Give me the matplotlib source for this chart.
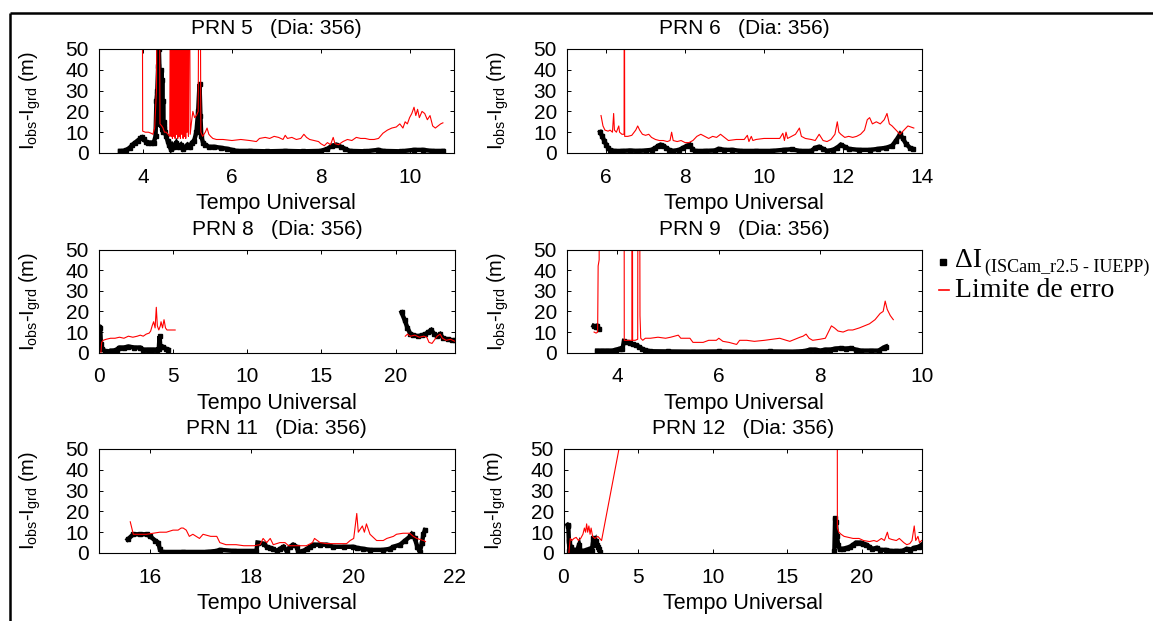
import numpy as np
import matplotlib
matplotlib.use("Agg")
import matplotlib.pyplot as plt
from matplotlib.lines import Line2D

plt.rcParams['font.family'] = ['Liberation Sans', 'DejaVu Sans']
plt.rcParams['mathtext.fontset'] = 'custom'
plt.rcParams['mathtext.rm'] = 'Liberation Sans'
plt.rcParams['mathtext.it'] = 'Liberation Sans:italic'
plt.rcParams['mathtext.bf'] = 'Liberation Sans:bold'

nan = np.nan

# ---------------- PRN 5 ----------------
prn5_t_diff = [3.48, 3.55, 3.62, 3.70, 3.76, 3.82, 3.88, 3.94, 3.98, 4.02, 4.06, 4.12, 4.18, 4.24,
               4.28, 4.30, 4.32, 4.34, 4.355, 4.37, 4.38, 4.39, 4.40, 4.41, 4.42, 4.43, 4.44, 4.45,
               4.46, 4.48, 4.50, 4.52, 4.55, 4.58, 4.62, 4.66, 4.70, 4.75, 4.80, 4.85, 4.90, 4.95,
               5.00, 5.05, 5.10, 5.15, 5.20, 5.24, 5.27, 5.29, 5.31, 5.35, 5.40, 5.48, 5.60, 5.75,
               5.90, 6.00, 6.10, 6.40, 6.80, 7.20, 7.60, 8.00, 8.15, 8.25, 8.35, 8.45, 8.55, 8.65,
               9.00, 9.30, 9.40, 9.80, 10.10, 10.30, 10.50, 10.75]
prn5_diff = [1.0, 1.0, 1.5, 2.5, 4.0, 5.0, 6.0, 7.0, 7.5, 6.5, 5.5, 5.0, 5.0, 5.0,
             8.0, 25.0, 30.0, 42.0, 50.0, 38.0, 14.0, 30.0, 18.0, 40.0, 12.0, 35.0, 10.0, 25.0,
             13.0, 15.0, 10.0, 8.0, 6.0, 4.0, 2.0, 4.0, 3.0, 5.0, 3.0, 4.0, 2.0, 3.0,
             4.0, 3.0, 5.0, 6.0, 10.0, 20.0, 33.0, 18.0, 8.0, 5.0, 4.0, 3.0, 3.0, 2.5,
             2.0, 1.5, 1.0, 1.0, 0.8, 1.0, 0.8, 1.0, 2.0, 3.5, 4.0, 3.0, 2.0, 1.0,
             0.8, 1.5, 1.0, 0.8, 1.5, 1.5, 1.0, 1.0]
prn5_t_lim = [3.98, 3.99, 4.05, 4.12, 4.18, 4.22, 4.26, 4.30, 4.33, 4.36, 4.38, 4.42, 4.45, 4.48,
              4.52, 4.56, 4.60, 4.62, 4.63, 4.65, 4.66, 4.68, 4.69, 4.71, 4.72, 4.74, 4.75, 4.77,
              4.78, 4.80, 4.81, 4.83, 4.84, 4.86, 4.87, 4.89, 4.90, 4.92, 4.93, 4.95, 4.96, 4.98,
              4.99, 5.01, 5.02, 5.04, 5.06, 5.09, 5.12, 5.16, 5.20, 5.24, 5.26, 5.28, 5.30, 5.34,
              5.40, 5.44, 5.48, 5.52, 5.57, 5.65, 5.80, 6.00, 6.20, 6.40, 6.55, 6.62, 6.75, 6.85,
              6.95, 7.05, 7.15, 7.20, 7.25, 7.35, 7.45, 7.55, 7.62, 7.68, 7.75, 7.85, 7.95, 8.00,
              8.08, 8.15, 8.22, 8.28, 8.32, 8.40, 8.50, 8.60, 8.70, 8.80, 8.90, 9.00, 9.10, 9.20,
              9.30, 9.40, 9.50, 9.60, 9.70, 9.78, 9.85, 9.90, 9.95, 10.00, 10.05, 10.10, 10.14,
              10.18, 10.22, 10.28, 10.34, 10.40, 10.46, 10.52, 10.58, 10.64, 10.70, 10.75]
prn5_lim = [120, 10.5, 10, 10, 9.5, 9, 12, 30, 120, 120, 14, 13, 12, 10,
            10, 9, 8, 120, 8, 120, 7, 120, 8, 120, 7, 120, 9, 120,
            7, 120, 8, 120, 7, 120, 9, 120, 7, 120, 8, 120, 7, 120,
            10, 120, 8, 120, 9, 15, 20, 17, 18, 20, 120, 120, 10, 8,
            10, 12, 9, 8, 7, 6.5, 6.5, 6.0, 6.5, 6.0, 5.5, 7.0, 7.5, 7.0,
            8.0, 7.5, 6.5, 8.5, 7.0, 7.5, 6.5, 7.0, 9.0, 7.5, 6.5, 6.0, 5.5, 4.5,
            3.5, 5.0, 4.0, 7.5, 4.5, 4.0, 5.5, 6.5, 6.0, 7.5, 7.0, 7.0, 6.5, 6.5,
            7.0, 9.5, 11.0, 12.0, 12.5, 14.0, 12.0, 15.0, 14.0, 17.0, 19.0, 22.0, 18.0,
            21.0, 17.0, 20.0, 19.0, 16.0, 18.0, 13.0, 12.0, 13.0, 14.0, 14.5]

# ---------------- PRN 6 ----------------
prn6_t_diff = [5.85, 5.90, 5.95, 6.00, 6.05, 6.10, 6.20, 6.40, 6.60, 6.80, 7.00, 7.15, 7.25, 7.32,
               7.38, 7.45, 7.52, 7.60, 7.70, 7.85, 7.95, 8.05, 8.12, 8.18, 8.25, 8.50, 8.75, 8.85,
               9.00, 9.20, 9.40, 9.80, 10.20, 10.50, 10.70, 10.90, 11.20, 11.30, 11.40, 11.50,
               11.60, 11.75, 11.85, 11.95, 12.05, 12.15, 12.40, 12.70, 12.90, 13.10, 13.25, 13.35,
               13.45, 13.52, 13.60, 13.70, 13.78]
prn6_diff = [10, 8, 6, 4, 2.5, 1.5, 1.0, 1.0, 1.2, 1.0, 1.2, 1.5, 2.5, 3.5,
             4.0, 3.5, 2.5, 1.5, 1.0, 1.5, 2.5, 3.5, 4.0, 2.0, 1.0, 1.0, 1.2, 2.0,
             1.5, 1.5, 1.0, 1.0, 1.0, 1.5, 1.8, 1.0, 1.0, 2.5, 3.0, 2.0,
             1.0, 1.5, 2.5, 4.0, 3.0, 2.0, 1.5, 1.5, 2.0, 2.5, 3.5, 6.0,
             9.0, 7.0, 4.5, 2.5, 2.0]
prn6_t_lim = [5.87, 5.92, 5.97, 6.05, 6.10, 6.16, 6.19, 6.21, 6.26, 6.32, 6.34, 6.40, 6.455, 6.46,
              6.47, 6.55, 6.65, 6.75, 6.80, 6.85, 6.92, 7.00, 7.08, 7.15, 7.25, 7.35, 7.45, 7.55,
              7.62, 7.66, 7.70, 7.80, 7.90, 8.00, 8.10, 8.20, 8.30, 8.40, 8.50, 8.60, 8.70, 8.80,
              8.90, 9.00, 9.10, 9.30, 9.50, 9.58, 9.62, 9.68, 9.72, 9.80, 10.00, 10.20, 10.40,
              10.48, 10.52, 10.56, 10.60, 10.70, 10.80, 10.90, 10.95, 11.05, 11.20, 11.30, 11.40,
              11.50, 11.60, 11.70, 11.80, 11.86, 11.90, 11.95, 12.05, 12.15, 12.25, 12.35, 12.45,
              12.55, 12.62, 12.68, 12.75, 12.85, 12.95, 13.05, 13.12, 13.18, 13.25, 13.35, 13.45,
              13.55, 13.65, 13.80]
prn6_lim = [18, 13, 11, 10.5, 11, 10, 19, 11, 10, 13, 10, 9, 9, 150,
            8, 8, 8.5, 11, 13, 11, 9, 8.5, 9, 7.5, 6.5, 6, 6, 5.5,
            6, 10, 6, 5.5, 6, 5, 5, 6, 8, 9, 8, 7, 8, 7.5,
            9, 7.5, 6, 6.5, 6.5, 8.5, 5.5, 8, 6, 6.5, 7, 7, 7,
            9.5, 6, 10, 7, 8, 9, 12, 8, 7, 6.5, 6, 9,
            6, 5.5, 6.5, 9, 15, 10, 9, 7.5, 8, 7.5, 8, 9,
            11, 16, 17, 14, 15, 14, 16, 19, 14, 13, 11, 9,
            11, 13, 12]

# ---------------- PRN 8 ----------------
prn8_t_diff = [0.05, 0.10, 0.15, 0.25, 0.40, 0.60, 0.80, 1.00, 1.20, 1.40, 1.70, 2.00, 2.40, 2.80,
               3.00, 3.30, 3.60, 3.90, 4.05, 4.10, 4.15, 4.30, 4.50, 4.70, nan,
               20.40, 20.60, 20.80, 21.00, 21.20, 21.50, 21.80, 22.00, 22.20, 22.40, 22.60, 22.80,
               23.00, 23.20, 23.50, 23.80, 24.00]
prn8_diff = [12.5, 12, 4, 2, 0.8, 0.5, 1, 1, 1.5, 2.5, 2.5, 3, 2.5, 2.5,
             1.5, 1.5, 1.5, 1.5, 2, 8, 3, 3, 2, 1.5, nan,
             19.5, 16, 12, 9, 8.5, 8, 8.5, 9, 10, 11, 9, 8,
             9, 7, 6.5, 6, 6]
prn8_t_lim = [0.15, 0.20, 0.30, 0.50, 0.80, 1.10, 1.40, 1.70, 2.00, 2.30, 2.60, 2.80, 3.00, 3.20,
              3.40, 3.50, 3.60, 3.70, 3.80, 3.88, 3.95, 4.05, 4.15, 4.20, 4.30, 4.40, 4.50, 4.60,
              5.15, nan,
              20.65, 20.80, 21.00, 21.30, 21.60, 21.90, 22.10, 22.25, 22.45, 22.60, 22.80, 23.00,
              23.15, 23.40, 23.70, 24.00]
prn8_lim = [0, 5, 6, 6.5, 7, 7, 7.5, 7, 8, 7.5, 8, 8.5, 8, 9,
            9.5, 10.5, 13, 15, 12, 22, 13, 11, 13, 15, 12, 16, 12, 11,
            11, nan,
            8, 9, 8, 8.5, 7.5, 8, 7.5, 5, 4.5, 6, 8, 9,
            7, 6, 6.5, 5.5]

# ---------------- PRN 9 ----------------
prn9_t_diff = [3.53, 3.57, 3.60, 3.64, nan,
               3.60, 3.70, 3.80, 3.90, 3.98, 4.05, 4.10, 4.13, 4.18, 4.24, 4.30, 4.36, 4.42, 4.48,
               4.55, 4.65, 5.00, 5.50, 6.00, 6.50, 7.00, 7.50, 7.70, 7.80, 7.90, 8.00, 8.10, 8.20,
               8.30, 8.40, 8.50, 8.60, 8.70, 8.80, 9.00, 9.15, 9.25, 9.30]
prn9_diff = [13, 12.5, 13, 11.5, nan,
             1, 1, 1, 1, 1.5, 2, 2, 5.5, 5, 4.5, 4, 3.5, 3, 2,
             1.2, 0.7, 0.6, 0.5, 0.6, 0.5, 0.6, 0.5, 0.8, 1.5, 1.5, 1, 1.5, 1.5,
             2, 2.2, 2, 2.2, 1.5, 1, 1, 1, 2.5, 3]
prn9_t_lim = [3.54, 3.58, 3.61, 3.62, 3.64, 3.65, 4.13, 4.135, 4.18, 4.24, 4.285, 4.29, 4.30, 4.35,
              4.40, 4.41, 4.43, 4.445, 4.46, 4.50, 4.55, 4.65, 4.80, 4.95, 5.05, 5.20, 5.25, 5.35,
              5.43, 5.49, 5.60, 5.69, 5.80, 5.95, 6.00, 6.08, 6.20, 6.35, 6.41, 6.55, 6.70, 6.90,
              7.05, 7.20, 7.33, 7.40, 7.50, 7.60, 7.66, 7.72, 7.78, 7.85, 7.99, 8.10, 8.22, 8.28,
              8.35, 8.45, 8.55, 8.64, 8.77, 8.97, 9.08, 9.18, 9.24, 9.28, 9.32, 9.38, 9.44]
prn9_lim = [10, 9.5, 10, 42, 45, 200, 200, 6, 6, 6, 6, 200, 6, 6,
            6.5, 200, 200, 18, 7, 6, 7, 7, 7.5, 7, 7.5, 8.5, 7, 7,
            7, 5, 5, 5, 6, 6, 7, 5.5, 5, 4, 6, 6, 5.5, 6,
            6.5, 7, 6, 5.5, 6.5, 7.5, 8, 9, 7, 6, 6.5, 7, 13, 12,
            10.5, 10, 11, 11, 12, 14, 16, 19, 20, 25, 21, 18, 16]

# ---------------- PRN 11 ----------------
prn11_t_diff = [15.57, 15.68, 15.81, 15.94, 16.01, 16.11, 16.17, 16.20, 16.24, 16.66, 17.12, 17.32,
                17.38, 17.65, 18.10, 18.12, 18.24, 18.30, 18.37, 18.43, 18.50, 18.56, 18.63, 18.69,
                18.76, 18.82, 18.89, 18.92, 19.02, 19.09, 19.15, 19.22, 19.35, 19.48, 19.61, 19.81,
                20.00, 20.07, 20.20, 20.33, 20.59, 20.72, 20.79, 20.92, 21.02, 21.12, 21.15, 21.21,
                21.26, 21.31, 21.35, 21.38, 21.41]
prn11_diff = [6.5, 9, 9, 9, 8, 6, 5, 2, 0.5, 0.5, 0.5, 1,
              1.5, 1, 1, 5, 4.5, 3, 2.5, 2, 1, 2, 3, 1,
              3, 4, 3, 0.5, 1, 2, 3, 4, 4, 4, 3, 3,
              3, 2.5, 2, 1.5, 1.5, 2, 3, 4, 6, 8, 9, 7,
              3, 0.5, 5, 9, 11]
prn11_t_lim = [15.62, 15.68, 15.80, 15.94, 16.07, 16.20, 16.33, 16.46, 16.56, 16.62, 16.66, 16.72,
               16.78, 16.85, 16.98, 17.05, 17.20, 17.32, 17.38, 17.50, 17.70, 17.85, 18.05, 18.17,
               18.23, 18.30, 18.37, 18.43, 18.56, 18.66, 18.73, 18.90, 19.08, 19.20, 19.24, 19.35,
               19.48, 19.70, 19.87, 19.94, 20.01, 20.07, 20.10, 20.18, 20.22, 20.26, 20.33, 20.46,
               20.59, 20.66, 20.79, 20.85, 20.98, 21.11, 21.18, 21.25, 21.38, 21.42]
prn11_lim = [15, 9, 9, 9, 9.5, 10, 10, 11, 11, 12, 12, 11,
             8, 9, 7, 9, 8, 8, 5, 4, 4, 3.5, 3.5, 4,
             7, 5, 7, 4, 5, 5, 3.5, 3.5, 3.5, 5, 7, 5,
             4.5, 4.5, 4.5, 6, 7, 19, 10, 13, 10, 14, 9, 6,
             6, 7, 8, 9, 9.5, 9.5, 8, 7, 6, 5.5]

# ---------------- PRN 12 ----------------
prn12_t_diff = [0.27, 0.32, 0.36, 0.40, 0.50, 0.60, 0.75, 0.90, 1.05, 1.15, 1.35, 1.55, 1.75, 1.90,
                2.00, 2.08, 2.15, 2.22, 2.30, 2.40, 2.45, nan,
                18.15, 18.20, 18.25, 18.32, 18.40, 18.50, 18.70, 19.00, 19.20, 19.40, 19.60, 19.90,
                20.10, 20.30, 20.50, 20.70, 21.00, 21.20, 21.60, 21.90, 22.30, 22.70, 23.00, 23.20,
                23.50, 23.80, 24.00]
prn12_diff = [13.5, 13, 6, 1, 3, 1, 1.5, 1, 4, 1, 1, 1.5, 2, 1,
              7, 5, 6, 4, 3, 2, 0.5, nan,
              1, 17, 15, 8, 4, 2, 2, 2.5, 3, 4, 5, 5,
              4.5, 4, 3, 2, 2.5, 1.5, 1.5, 1, 1, 1, 2, 1.5,
              2.5, 3, 4]
prn12_t_lim = [0.36, 0.45, 0.55, 0.70, 0.85, 1.00, 1.15, 1.30, 1.40, 1.48, 1.55, 1.62, 1.70, 1.78,
               1.85, 1.95, 2.10, 2.30, 2.55, 18.30, 18.35, 18.45, 18.60, 18.80, 19.10, 19.40, 19.80,
               20.10, 20.50, 20.80, 21.00, 21.30, 21.50, 21.70, 21.80, 22.00, 22.30, 22.50, 22.80,
               23.00, 23.20, 23.35, 23.50, 23.60, 23.75, 23.85, 24.00]
prn12_lim = [0, 7, 6, 7, 7.5, 6, 7, 9, 12, 10, 14, 10, 13, 9,
             12, 8, 7, 8, 6, 600, 12, 10, 9, 8, 7.5, 7, 7,
             6, 5.5, 6, 5.5, 7, 6, 10, 7, 6.5, 6, 7, 5,
             4, 4.5, 6, 13, 6, 8, 5, 6]

panel_titles = ["PRN 5   (Dia: 356)", "PRN 6   (Dia: 356)", "PRN 8   (Dia: 356)",
                "PRN 9   (Dia: 356)", "PRN 11   (Dia: 356)", "PRN 12   (Dia: 356)"]
x_limits = [(3, 11), (5, 14), (0, 24), (3, 10), (15, 22), (0, 24)]
x_ticks = [[4, 6, 8, 10], [6, 8, 10, 12, 14], [0, 5, 10, 15, 20],
           [4, 6, 8, 10], [16, 18, 20, 22], [0, 5, 10, 15, 20]]
y_ticks = [0, 10, 20, 30, 40, 50]

series = [(prn5_t_diff, prn5_diff, prn5_t_lim, prn5_lim),
          (prn6_t_diff, prn6_diff, prn6_t_lim, prn6_lim),
          (prn8_t_diff, prn8_diff, prn8_t_lim, prn8_lim),
          (prn9_t_diff, prn9_diff, prn9_t_lim, prn9_lim),
          (prn11_t_diff, prn11_diff, prn11_t_lim, prn11_lim),
          (prn12_t_diff, prn12_diff, prn12_t_lim, prn12_lim)]

W, H = 1153, 621
fig = plt.figure(figsize=(W / 100, H / 100), dpi=100)

# axes boxes in pixels: left, top, right, bottom
boxes = [(98.7, 49, 454, 153), (566.7, 49, 921.7, 153),
         (98.7, 249.5, 455, 352.7), (566.7, 249.5, 921.7, 352.7),
         (98.7, 449, 455, 553), (563.5, 449, 921.7, 553)]

ylabel = r'I$_{\mathrm{obs}}$-I$_{\mathrm{grd}}$ (m)'

for i, (l, t, r, b) in enumerate(boxes):
    ax = fig.add_axes([l / W, 1 - b / H, (r - l) / W, (b - t) / H])
    td, vd, tl, vl = series[i]
    ax.plot(td, vd, color='black', lw=3.2, marker='s', ms=3.2,
            solid_joinstyle='miter')
    ax.plot(tl, vl, color='red', lw=0.8)
    ax.set_xlim(*x_limits[i])
    ax.set_ylim(0, 50)
    ax.set_xticks(x_ticks[i])
    ax.set_yticks(y_ticks)
    ax.tick_params(direction='in', length=3, width=0.7, top=True, right=True,
                   labelsize=15, colors='black')
    ax.tick_params(axis='x', pad=10.5)
    ax.tick_params(axis='y', pad=7)
    for s in ax.spines.values():
        s.set_linewidth(0.8)
    ax.set_title(panel_titles[i], fontsize=15, pad=10.5)
    ax.set_xlabel('Tempo Universal', fontsize=15.5)
    ax.xaxis.set_label_coords(0.5, -40 / (b - t))
    ax.set_ylabel(ylabel, fontsize=14.5)
    ax.yaxis.set_label_coords(-56 / (r - l), 0.5)

# outer frame lines (top and left)
fig.add_artist(Line2D([10.5 / W, 1.0], [1 - 12.5 / H, 1 - 12.5 / H], color='black', lw=1.8,
                      transform=fig.transFigure, solid_capstyle='butt'))
fig.add_artist(Line2D([10.5 / W, 10.5 / W], [0.0, 1 - 12.5 / H], color='black', lw=1.8,
                      transform=fig.transFigure, solid_capstyle='butt'))

# legend entries
serif = ['Liberation Serif', 'DejaVu Serif']
fig.add_artist(Line2D([943 / W], [1 - 262 / H], marker='s', ms=4.5, color='black',
                      linestyle='none', transform=fig.transFigure))
fig.text(955 / W, 1 - 267 / H, '\u0394I', fontsize=20, family=serif, va='baseline', ha='left')
fig.text(985 / W, 1 - 271.5 / H, '(ISCam_r2.5 - IUEPP)', fontsize=13, family=serif,
         va='baseline', ha='left')
fig.add_artist(Line2D([939 / W, 949 / W], [1 - 290 / H, 1 - 290 / H], color='red', lw=1.2,
                      transform=fig.transFigure))
fig.text(955 / W, 1 - 297 / H, 'Limite de erro', fontsize=20, family=serif, va='baseline',
         ha='left')

fig.savefig('out.png', dpi=100)
